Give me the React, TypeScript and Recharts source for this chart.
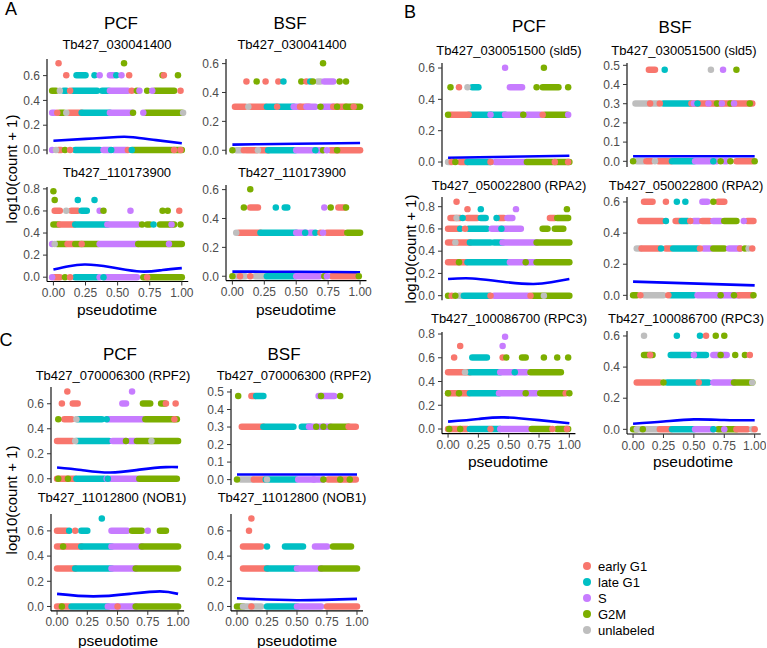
import React from "react";
import { ComposedChart, Line, Scatter, XAxis, YAxis } from "recharts";

type Phase = "e" | "l" | "s" | "g" | "u";
// [level, x, phase] = one cell, [level, xFrom, xTo, phase] = a dense run of cells
type Mark = [number, number, Phase] | [number, number, number, Phase];
type Pt = [number, number];

const PHASES: Phase[] = ["e", "l", "s", "g", "u"];
const PHASE_LABELS = ["early G1", "late G1", "S", "G2M", "unlabeled"];
const PHASE_COLORS: Record<Phase, string> = {
  e: "#F8766D",
  l: "#00BFC4",
  s: "#C77CFF",
  g: "#7CAE00",
  u: "#BEBEBE",
};

const X_TICKS = [0, 0.25, 0.5, 0.75, 1];
const Y_TICKS_05 = [0, 0.1, 0.2, 0.3, 0.4, 0.5];
const Y_TICKS_06 = [0, 0.2, 0.4, 0.6];
const Y_TICKS_08 = [0, 0.2, 0.4, 0.6, 0.8];

// A, PCF, Tb427_030041400
const aPcfMarks1: Mark[] = [
  [0, 0.04, 0.06, "e"], [0, 0.17, 0.36, "l"], [0, 0.39, 0.44, "s"], [0, 0.47, 0.57, "s"], [0, 0.62, 1.0, "g"],
  [0, -0.01, "s"], [0, 0.02, "u"], [0, 0.09, "g"], [0, 0.13, "e"], [0, 0.45, "l"], [0, 0.58, "e"], [0, 0.61, "l"], [0, 0.94, "e"], [0, 0.99, "e"],
  [0.301, -0.01, 0.01, "s"], [0.301, 0.05, 0.08, "g"], [0.301, 0.12, 0.22, "e"], [0.301, 0.22, 0.44, "l"], [0.301, 0.44, 0.61, "s"], [0.301, 0.72, 1.0, "g"],
  [0.301, 0.03, "e"], [0.301, 0.1, "u"], [0.301, 0.62, "g"], [0.301, 0.7, "s"], [0.301, 1.01, "u"],
  [0.477, -0.01, 0.02, "g"], [0.477, 0.08, 0.1, "l"], [0.477, 0.15, 0.34, "l"], [0.477, 0.38, 0.43, "l"], [0.477, 0.44, 0.58, "s"], [0.477, 0.79, 0.94, "g"],
  [0.477, 0.05, "u"], [0.477, 0.13, "e"], [0.477, 0.61, "e"], [0.477, 0.65, "g"], [0.477, 0.67, "s"], [0.477, 0.73, "g"], [0.477, 0.77, "s"], [0.477, 0.99, "e"],
  [0.602, 0.18, 0.25, "l"], [0.602, 0.44, 0.47, "s"],
  [0.602, 0.1, "e"], [0.602, 0.32, "l"], [0.602, 0.36, "s"], [0.602, 0.49, "l"], [0.602, 0.53, "s"], [0.602, 0.59, "e"], [0.602, 0.85, "g"], [0.602, 0.86, "e"], [0.602, 0.97, "g"],
  [0.699, 0.04, "e"], [0.699, 0.55, "g"],
];
const aPcfSmooth1: Pt[] = [[0, 0.075], [0.25, 0.09], [0.5, 0.105], [0.62, 0.103], [0.8, 0.08], [1, 0.055]];

// A, PCF, Tb427_110173900
const aPcfMarks2: Mark[] = [
  [0, 0.01, 0.05, "e"], [0, 0.17, 0.34, "l"], [0, 0.4, 0.65, "s"], [0, 0.7, 1.0, "g"],
  [0, -0.01, "s"], [0, 0.09, "g"], [0, 0.13, "e"], [0, 0.36, "s"], [0, 0.39, "l"], [0, 0.73, "e"],
  [0.301, 0.03, 0.1, "g"], [0.301, 0.11, 0.16, "e"], [0.301, 0.17, 0.35, "g"], [0.301, 0.36, 0.66, "s"], [0.301, 0.66, 1.0, "g"],
  [0.301, -0.01, "s"], [0.301, 0.01, "u"], [0.301, 0.22, "e"], [0.301, 0.9, "s"],
  [0.477, 0, 0.04, "g"], [0.477, 0.05, 0.16, "e"], [0.477, 0.17, 0.42, "l"], [0.477, 0.42, 0.66, "s"], [0.477, 0.73, 0.75, "g"], [0.477, 0.83, 0.94, "g"],
  [0.477, 0.69, "g"], [0.477, 0.78, "l"], [0.477, 0.92, "s"], [0.477, 0.99, "g"],
  [0.602, 0.01, 0.05, "e"], [0.602, 0.14, 0.19, "e"], [0.602, 0.22, 0.26, "l"],
  [0.602, 0.1, "u"], [0.602, 0.36, "s"], [0.602, 0.39, "g"], [0.602, 0.6, "s"], [0.602, 0.85, "g"], [0.602, 0.89, "g"], [0.602, 0.98, "e"],
  [0.699, 0.01, "g"], [0.699, 0.19, "l"], [0.699, 0.32, "l"],
  [0.778, 0, "g"],
];
const aPcfSmooth2: Pt[] = [[0, 0.069], [0.12, 0.1], [0.25, 0.115], [0.45, 0.09], [0.68, 0.051], [0.85, 0.065], [1, 0.082]];

// A, BSF, Tb427_030041400
const aBsfMarks1: Mark[] = [
  [0, 0.03, 0.07, "u"], [0, 0.11, 0.19, "e"], [0, 0.22, 0.28, "e"], [0, 0.28, 0.49, "l"], [0, 0.5, 0.63, "s"], [0, 0.66, 0.7, "s"], [0, 0.77, 1.0, "e"],
  [0, 0, "g"], [0, 0.09, "e"], [0, 0.2, "u"], [0, 0.65, "l"], [0, 0.71, "g"], [0, 0.74, "s"], [0, 0.82, "g"],
  [0.301, 0.02, 0.1, "e"], [0.301, 0.14, 0.26, "e"], [0.301, 0.27, 0.35, "l"], [0.301, 0.37, 0.48, "l"], [0.301, 0.48, 0.53, "s"], [0.301, 0.53, 0.6, "e"],
  [0.301, 0.58, 0.65, "s"], [0.301, 0.71, 0.79, "s"], [0.301, 0.79, 0.89, "e"], [0.301, 0.89, 1.0, "g"],
  [0.301, 0.125, "u"], [0.301, 0.35, "e"], [0.301, 0.69, "g"], [0.301, 0.82, "g"], [0.301, 0.95, "e"],
  [0.477, 0.67, 0.69, "u"], [0.477, 0.72, 0.79, "s"],
  [0.477, 0.11, "e"], [0.477, 0.19, "g"], [0.477, 0.26, "e"], [0.477, 0.36, "e"], [0.477, 0.4, "l"], [0.477, 0.54, "g"], [0.477, 0.58, "e"],
  [0.477, 0.61, "l"], [0.477, 0.63, "g"], [0.477, 0.84, "g"], [0.477, 0.89, "g"],
  [0.602, 0.71, "g"],
];
const aBsfSmooth1: Pt[] = [[0, 0.039], [0.5, 0.045], [1, 0.05]];

// A, BSF, Tb427_110173900
const aBsfMarks2: Mark[] = [
  [0, 0.02, 0.1, "u"], [0, 0.18, 0.26, "u"], [0, 0.27, 0.49, "l"], [0, 0.5, 0.68, "s"], [0, 0.78, 0.97, "e"],
  [0, 0, "g"], [0, 0.06, "e"], [0, 0.14, "e"], [0, 0.72, "g"], [0, 0.74, "s"], [0, 0.99, "g"],
  [0.301, 0.05, 0.22, "e"], [0.301, 0.22, 0.5, "l"], [0.301, 0.5, 0.58, "s"], [0.301, 0.61, 0.63, "s"], [0.301, 0.74, 0.87, "e"], [0.301, 0.9, 1.0, "g"],
  [0.301, 0.03, "u"], [0.301, 0.57, "l"], [0.301, 0.65, "l"], [0.301, 0.69, "e"], [0.301, 0.71, "s"],
  [0.477, 0.14, 0.2, "e"], [0.477, 0.41, 0.43, "l"], [0.477, 0.83, 0.88, "e"],
  [0.477, 0.09, "g"], [0.477, 0.34, "l"], [0.477, 0.72, "s"], [0.477, 0.77, "g"], [0.477, 0.89, "g"],
  [0.602, 0.14, "g"],
];
const aBsfSmooth2: Pt[] = [[0, 0.032], [0.5, 0.031], [1, 0.028]];

// B, PCF, Tb427_030051500 (sld5)
const bPcfMarks1: Mark[] = [
  [0, 0, 0.02, "u"], [0, 0.1, 0.16, "e"], [0, 0.16, 0.35, "l"], [0, 0.39, 0.64, "s"], [0, 0.65, 1.0, "g"],
  [0, 0.03, "e"], [0, 0.06, "g"], [0, 0.35, "e"], [0, 0.88, "e"], [0, 0.99, "e"],
  [0.301, 0.02, 0.16, "e"], [0.301, 0.18, 0.35, "l"], [0.301, 0.36, 0.47, "l"], [0.301, 0.47, 0.62, "s"], [0.301, 0.65, 0.76, "s"], [0.301, 0.8, 0.98, "g"],
  [0.301, 0, "g"], [0.301, 0.17, "e"], [0.301, 0.35, "s"], [0.301, 0.62, "g"], [0.301, 0.78, "e"], [0.301, 0.99, "s"],
  [0.477, 0.2, 0.25, "l"], [0.477, 0.51, 0.61, "s"], [0.477, 0.78, 0.91, "g"],
  [0.477, 0.02, "g"], [0.477, 0.09, "e"], [0.477, 0.16, "u"], [0.477, 0.73, "g"], [0.477, 0.99, "g"],
  [0.602, 0.47, "s"], [0.602, 0.79, "g"],
];
const bPcfSmooth1: Pt[] = [[0, 0.027], [1, 0.04]];

// B, BSF, Tb427_030051500 (sld5)
const bBsfMarks1: Mark[] = [
  [0, 0.03, 0.09, "u"], [0, 0.11, 0.15, "e"], [0, 0.21, 0.31, "e"], [0, 0.32, 0.5, "l"], [0, 0.51, 0.69, "s"], [0, 0.75, 0.77, "s"], [0, 0.85, 0.98, "e"],
  [0, 0, "g"], [0, 0.18, "u"], [0, 0.66, "l"], [0, 0.72, "g"], [0, 0.8, "g"], [0, 1.0, "g"],
  [0.301, 0.02, 0.2, "u"], [0.301, 0.25, 0.47, "l"], [0.301, 0.48, 0.98, "e"],
  [0.301, 0.14, "e"], [0.301, 0.22, "e"], [0.301, 0.5, "s"], [0.301, 0.53, "l"], [0.301, 0.62, "s"], [0.301, 0.69, "g"], [0.301, 0.73, "s"],
  [0.301, 0.8, "g"], [0.301, 0.83, "s"], [0.301, 0.96, "g"],
  [0.477, 0.13, 0.18, "e"],
  [0.477, 0.26, "l"], [0.477, 0.64, "u"], [0.477, 0.74, "s"], [0.477, 0.85, "g"],
];
const bBsfSmooth1: Pt[] = [[0, 0.026], [1, 0.026]];

// B, PCF, Tb427_050022800 (RPA2)
const bPcfMarks2: Mark[] = [
  [0, 0.09, 0.11, "u"], [0, 0.13, 0.34, "l"], [0, 0.38, 0.66, "s"], [0, 0.7, 1.0, "g"],
  [0, 0, "g"], [0, 0.03, "e"], [0, 0.06, "g"], [0, 0.35, "e"], [0, 0.68, "e"], [0, 0.79, "u"],
  [0.301, 0, 0.15, "e"], [0.301, 0.16, 0.49, "l"], [0.301, 0.51, 0.71, "s"], [0.301, 0.73, 1.0, "g"],
  [0.301, 0.09, "g"], [0.301, 0.64, "g"],
  [0.477, 0, 0.18, "e"], [0.477, 0.18, 0.35, "l"], [0.477, 0.38, 0.45, "l"], [0.477, 0.45, 0.73, "s"], [0.477, 0.73, 1.0, "g"],
  [0.477, 0.06, "u"],
  [0.602, 0, 0.09, "e"], [0.602, 0.17, 0.32, "l"], [0.602, 0.36, 0.49, "s"], [0.602, 0.51, 0.6, "s"], [0.602, 0.78, 0.82, "g"], [0.602, 0.88, 0.95, "g"],
  [0.602, 0.1, "l"], [0.602, 0.14, "e"], [0.602, 0.44, "l"],
  [0.699, 0.02, 0.1, "e"], [0.699, 0.16, 0.24, "e"], [0.699, 0.27, 0.31, "l"], [0.699, 0.42, 0.46, "e"], [0.699, 0.49, 0.53, "s"], [0.699, 0.84, 0.88, "e"], [0.699, 0.9, 0.99, "g"],
  [0.699, 0.07, "u"], [0.699, 0.12, "l"], [0.699, 0.4, "l"],
  [0.778, 0.16, "e"], [0.778, 0.27, "l"], [0.778, 0.56, "s"], [0.778, 0.98, "g"],
  [0.845, 0.07, "e"],
];
const bPcfSmooth2: Pt[] = [[0, 0.15], [0.2, 0.155], [0.45, 0.125], [0.7, 0.105], [0.85, 0.12], [1, 0.15]];

// B, BSF, Tb427_050022800 (RPA2)
const bBsfMarks2: Mark[] = [
  [0, 0, 0.03, "g"], [0, 0.09, 0.25, "u"], [0, 0.31, 0.5, "l"], [0, 0.53, 0.7, "s"], [0, 0.7, 0.87, "s"], [0, 0.87, 0.98, "e"],
  [0, 0.06, "e"], [0, 0.29, "e"], [0, 0.72, "g"], [0, 0.83, "g"], [0, 0.99, "g"],
  [0.301, 0.03, 0.06, "u"], [0.301, 0.07, 0.21, "e"], [0.301, 0.27, 0.31, "e"], [0.301, 0.33, 0.53, "l"], [0.301, 0.58, 0.64, "s"], [0.301, 0.66, 0.75, "g"], [0.301, 0.79, 0.88, "s"],
  [0.301, 0.23, "l"], [0.301, 0.55, "e"], [0.301, 0.88, "e"], [0.301, 0.92, "g"], [0.301, 0.95, "u"], [0.301, 0.98, "e"],
  [0.477, 0.06, 0.24, "e"], [0.477, 0.35, 0.39, "e"], [0.477, 0.4, 0.45, "l"], [0.477, 0.5, 0.54, "s"], [0.477, 0.57, 0.63, "e"], [0.477, 0.66, 0.72, "s"], [0.477, 0.75, 0.85, "g"], [0.477, 0.94, 0.99, "e"],
  [0.477, 0.27, "l"], [0.477, 0.47, "e"], [0.477, 0.91, "s"],
  [0.602, 0.09, 0.16, "e"], [0.602, 0.57, 0.61, "s"], [0.602, 0.7, 0.75, "e"],
  [0.602, 0.27, "e"], [0.602, 0.36, "l"], [0.602, 0.43, "l"], [0.602, 0.66, "g"],
];
const bBsfSmooth2: Pt[] = [[0, 0.088], [1, 0.064]];

// B, PCF, Tb427_100086700 (RPC3)
const bPcfMarks3: Mark[] = [
  [0, 0, 0.16, "e"], [0, 0.18, 0.34, "l"], [0, 0.36, 0.43, "l"], [0, 0.43, 0.66, "s"], [0, 0.69, 0.84, "g"], [0, 0.9, 0.99, "g"],
  [0, 0.01, "g"], [0, 0.1, "g"], [0, 0.35, "e"], [0, 0.86, "e"], [0, 0.98, "e"],
  [0.301, 0, 0.17, "e"], [0.301, 0.18, 0.42, "l"], [0.301, 0.42, 0.62, "s"], [0.301, 0.65, 0.73, "s"], [0.301, 0.76, 0.95, "g"],
  [0.301, 0, "g"], [0.301, 0.09, "g"], [0.301, 0.64, "g"], [0.301, 0.97, "e"], [0.301, 1.0, "g"],
  [0.477, 0, 0.18, "e"], [0.477, 0.18, 0.43, "l"], [0.477, 0.43, 0.65, "s"], [0.477, 0.68, 0.93, "g"],
  [0.477, 0.14, "u"], [0.477, 0.55, "l"],
  [0.602, 0.2, 0.32, "l"], [0.602, 0.61, 0.64, "g"],
  [0.602, 0.05, "e"], [0.602, 0.45, "e"], [0.602, 0.48, "g"], [0.602, 0.79, "g"], [0.602, 0.9, "g"], [0.602, 0.99, "g"],
  [0.699, 0.1, "e"], [0.699, 0.45, "s"],
  [0.778, 0.47, "s"],
];
const bPcfSmooth3: Pt[] = [[0, 0.062], [0.25, 0.085], [0.46, 0.098], [0.75, 0.075], [1, 0.048]];

// B, BSF, Tb427_100086700 (RPC3)
const bBsfMarks3: Mark[] = [
  [0, 0, 0.03, "g"], [0, 0.03, 0.2, "u"], [0, 0.22, 0.31, "e"], [0, 0.32, 0.5, "l"], [0, 0.51, 0.66, "s"], [0, 0.7, 0.85, "g"], [0, 0.85, 0.94, "e"],
  [0, 0.08, "g"], [0, 0.66, "l"], [0, 0.75, "s"], [0, 0.98, "u"], [0, 1.0, "e"],
  [0.301, 0.03, 0.22, "e"], [0.301, 0.28, 0.53, "l"], [0.301, 0.56, 0.62, "l"], [0.301, 0.66, 0.83, "s"], [0.301, 0.83, 0.98, "g"],
  [0.301, 0.25, "g"], [0.301, 0.54, "e"], [0.301, 0.98, "u"],
  [0.477, 0.09, 0.16, "g"], [0.477, 0.31, 0.47, "l"], [0.477, 0.5, 0.6, "l"], [0.477, 0.66, 0.77, "s"],
  [0.477, 0.14, "e"], [0.477, 0.5, "s"], [0.477, 0.72, "g"], [0.477, 0.84, "g"], [0.477, 0.92, "g"], [0.477, 0.96, "e"],
  [0.602, 0.09, "u"], [0.602, 0.36, "l"], [0.602, 0.55, "l"], [0.602, 0.6, "e"], [0.602, 0.68, "g"], [0.602, 0.75, "g"],
];
const bBsfSmooth3: Pt[] = [[0, 0.036], [0.25, 0.05], [0.5, 0.064], [0.75, 0.06], [1, 0.058]];

// C, PCF, Tb427_070006300 (RPF2)
const cPcfMarks1: Mark[] = [
  [0, 0, 0.15, "e"], [0, 0.16, 0.39, "l"], [0, 0.44, 0.66, "s"], [0, 0.68, 0.99, "g"],
  [0, 0.01, "g"], [0, 0.09, "g"], [0, 0.41, "s"], [0, 0.42, "l"],
  [0.301, 0, 0.13, "e"], [0.301, 0.16, 0.43, "l"], [0.301, 0.46, 0.57, "s"], [0.301, 0.6, 0.65, "s"], [0.301, 0.66, 1.0, "g"],
  [0.301, 0.15, "u"], [0.301, 0.57, "g"], [0.301, 0.78, "u"],
  [0.477, 0.06, 0.12, "e"], [0.477, 0.17, 0.37, "l"], [0.477, 0.42, 0.71, "s"], [0.477, 0.73, 0.99, "g"],
  [0.477, 0.01, "g"], [0.477, 0.16, "u"], [0.477, 0.41, "l"], [0.477, 0.97, "e"],
  [0.602, 0.13, 0.17, "e"], [0.602, 0.54, 0.57, "s"], [0.602, 0.71, 0.77, "g"], [0.602, 0.86, 0.89, "g"],
  [0.602, 0.04, "e"], [0.602, 0.9, "e"], [0.602, 0.98, "e"],
  [0.699, 0.085, "e"], [0.699, 0.62, "s"],
];
const cPcfSmooth1: Pt[] = [[0, 0.09], [0.2, 0.07], [0.44, 0.05], [0.7, 0.075], [0.9, 0.093], [1, 0.093]];

// C, BSF, Tb427_070006300 (RPF2)
const cBsfMarks1: Mark[] = [
  [0, 0.03, 0.13, "u"], [0, 0.14, 0.22, "e"], [0, 0.24, 0.49, "l"], [0, 0.51, 0.64, "s"], [0, 0.64, 0.72, "s"], [0, 0.76, 0.99, "e"],
  [0, 0, "g"], [0, 0.25, "u"], [0, 0.72, "g"], [0, 0.86, "g"], [0, 0.94, "g"],
  [0.301, 0.04, 0.22, "e"], [0.301, 0.22, 0.47, "l"], [0.301, 0.54, 0.61, "l"], [0.301, 0.6, 0.64, "s"], [0.301, 0.66, 0.78, "s"], [0.301, 0.78, 0.93, "g"], [0.301, 0.93, 0.99, "e"],
  [0.301, 0.66, "g"], [0.301, 0.72, "g"],
  [0.477, 0.12, 0.15, "e"], [0.477, 0.16, 0.22, "l"], [0.477, 0.68, 0.81, "s"],
  [0.477, 0.01, "g"], [0.477, 0.7, "g"], [0.477, 0.86, "g"],
];
const cBsfSmooth1: Pt[] = [[0, 0.029], [1, 0.029]];

// C, PCF, Tb427_11012800 (NOB1)
const cPcfMarks2: Mark[] = [
  [0, 0, 0.1, "e"], [0, 0.12, 0.42, "l"], [0, 0.42, 0.65, "s"], [0, 0.65, 1.0, "g"],
  [0, 0.04, "g"], [0, 0.5, "e"],
  [0.301, 0, 0.15, "e"], [0.301, 0.15, 0.45, "l"], [0.301, 0.45, 0.65, "s"], [0.301, 0.65, 1.0, "g"],
  [0.477, 0, 0.2, "e"], [0.477, 0.2, 0.45, "l"], [0.477, 0.45, 0.7, "s"], [0.477, 0.7, 1.0, "g"],
  [0.477, 0.05, "g"],
  [0.602, 0, 0.08, "e"], [0.602, 0.2, 0.25, "l"], [0.602, 0.45, 0.58, "s"], [0.602, 0.62, 0.7, "g"], [0.602, 0.85, 0.9, "g"],
  [0.602, 0.1, "l"], [0.602, 0.15, "e"], [0.602, 0.75, "s"],
  [0.699, 0.37, "l"],
];
const cPcfSmooth2: Pt[] = [[0, 0.1], [0.3, 0.08], [0.6, 0.1], [0.85, 0.12], [1, 0.1]];

// C, BSF, Tb427_11012800 (NOB1)
const cBsfMarks2: Mark[] = [
  [0, 0, 0.05, "g"], [0, 0.05, 0.2, "u"], [0, 0.25, 0.5, "l"], [0, 0.5, 0.7, "s"], [0, 0.75, 1.0, "e"],
  [0, 0.12, "e"],
  [0.301, 0.05, 0.25, "e"], [0.301, 0.25, 0.5, "l"], [0.301, 0.5, 0.7, "s"], [0.301, 0.7, 1.0, "g"],
  [0.477, 0.05, 0.2, "e"], [0.477, 0.4, 0.55, "l"], [0.477, 0.65, 0.75, "s"], [0.477, 0.8, 0.95, "g"],
  [0.477, 0.25, "l"],
  [0.602, 0.1, "e"],
  [0.699, 0.12, "e"],
];
const cBsfSmooth2: Pt[] = [[0, 0.065], [0.5, 0.05], [1, 0.06]];

const FONT = "'Liberation Sans', Arial, Helvetica, sans-serif";
const YW = 40;
const PAD = 6;
const XH = 22;

interface PanelCfg {
  marks: Mark[];
  smooth: Pt[];
  x0: number; // page px of pseudotime 0
  x1: number; // page px of pseudotime 1
  p0: number; // page px of y = 0
  k: number; // px per y unit
  lo: number;
  hi: number;
  ticks: number[];
  showX: boolean;
}

const panels: PanelCfg[] = [
  { marks: aPcfMarks1, smooth: aPcfSmooth1, x0: 53.3, x1: 181.7, p0: 150, k: 124, lo: -0.035, hi: 0.734, ticks: Y_TICKS_06, showX: false },
  { marks: aPcfMarks2, smooth: aPcfSmooth2, x0: 53.3, x1: 181.7, p0: 276.7, k: 110.4, lo: -0.039, hi: 0.817, ticks: Y_TICKS_08, showX: true },
  { marks: aBsfMarks1, smooth: aBsfSmooth1, x0: 232.3, x1: 360, p0: 150, k: 144.4, lo: -0.03, hi: 0.632, ticks: Y_TICKS_06, showX: false },
  { marks: aBsfMarks2, smooth: aBsfSmooth2, x0: 232.3, x1: 360, p0: 276.7, k: 144.4, lo: -0.03, hi: 0.632, ticks: Y_TICKS_06, showX: true },
  { marks: bPcfMarks1, smooth: bPcfSmooth1, x0: 447.7, x1: 569, p0: 162.3, k: 156.7, lo: -0.03, hi: 0.632, ticks: Y_TICKS_06, showX: false },
  { marks: bBsfMarks1, smooth: bBsfSmooth1, x0: 632.7, x1: 754.3, p0: 161.7, k: 192, lo: -0.03, hi: 0.512, ticks: Y_TICKS_05, showX: false },
  { marks: bPcfMarks2, smooth: bPcfSmooth2, x0: 447.7, x1: 569, p0: 295.7, k: 111.25, lo: -0.042, hi: 0.887, ticks: Y_TICKS_08, showX: false },
  { marks: bBsfMarks2, smooth: bBsfSmooth2, x0: 632.7, x1: 754.3, p0: 295.7, k: 155.6, lo: -0.03, hi: 0.632, ticks: Y_TICKS_06, showX: false },
  { marks: bPcfMarks3, smooth: bPcfSmooth3, x0: 447.7, x1: 569, p0: 429, k: 118.75, lo: -0.039, hi: 0.817, ticks: Y_TICKS_08, showX: true },
  { marks: bBsfMarks3, smooth: bBsfSmooth3, x0: 632.7, x1: 754.3, p0: 429, k: 155.6, lo: -0.03, hi: 0.632, ticks: Y_TICKS_06, showX: true },
  { marks: cPcfMarks1, smooth: cPcfSmooth1, x0: 57.3, x1: 178.3, p0: 479, k: 125, lo: -0.035, hi: 0.734, ticks: Y_TICKS_06, showX: false },
  { marks: cBsfMarks1, smooth: cBsfSmooth1, x0: 236.7, x1: 356.7, p0: 480, k: 175.3, lo: -0.03, hi: 0.517, ticks: Y_TICKS_05, showX: false },
  { marks: cPcfMarks2, smooth: cPcfSmooth2, x0: 57.3, x1: 178.3, p0: 606.6, k: 126, lo: -0.035, hi: 0.734, ticks: Y_TICKS_06, showX: true },
  { marks: cBsfMarks2, smooth: cBsfSmooth2, x0: 236.7, x1: 356.7, p0: 606.6, k: 126, lo: -0.035, hi: 0.734, ticks: Y_TICKS_06, showX: true },
];

const tickStyle = { fontSize: 12, fill: "#4D4D4D", fontFamily: FONT };

function Panel({ cfg }: { cfg: PanelCfg }) {
  const unit = cfg.x1 - cfg.x0;
  const plotLeft = cfg.x0 - 0.05 * unit;
  const plotW = 1.1 * unit;
  const plotTop = cfg.p0 - cfg.hi * cfg.k;
  const plotH = (cfg.hi - cfg.lo) * cfg.k;
  const runs = cfg.marks.filter((m) => m.length === 4) as [number, number, number, Phase][];
  const dots = cfg.marks
    .filter((m) => m.length === 3)
    .map((m) => ({ x: m[1] as number, y: m[0], ph: m[2] as Phase }));
  const w = YW + plotW + PAD;
  const h = PAD + plotH + (cfg.showX ? XH : PAD);

  return (
    <div style={{ position: "absolute", left: plotLeft - YW, top: plotTop - PAD }}>
      <ComposedChart width={w} height={h} margin={{ top: PAD, right: PAD, bottom: cfg.showX ? 0 : PAD, left: 0 }}>
        <XAxis
          dataKey='x'
          type='number'
          domain={[-0.05, 1.05]}
          allowDataOverflow
          ticks={X_TICKS}
          interval={0}
          tickFormatter={(v: number) => v.toFixed(2)}
          hide={!cfg.showX}
          height={XH}
          tick={tickStyle}
          tickSize={4}
          tickMargin={3}
          axisLine={{ stroke: "#000", strokeWidth: 1.1 }}
          tickLine={{ stroke: "#333" }}
        />
        <YAxis
          dataKey='y'
          type='number'
          domain={[cfg.lo, cfg.hi]}
          allowDataOverflow
          ticks={cfg.ticks}
          interval={0}
          tickFormatter={(v: number) => v.toFixed(1)}
          width={YW}
          tick={tickStyle}
          tickSize={4}
          tickMargin={3}
          axisLine={{ stroke: "#000", strokeWidth: 1.1 }}
          tickLine={{ stroke: "#333" }}
        />
        {runs.map((r, i) => (
          <Line
            key={`run-${i}`}
            data={[
              { x: r[1], y: r[0] },
              { x: r[2], y: r[0] },
            ]}
            dataKey='y'
            type='linear'
            stroke={PHASE_COLORS[r[3]]}
            strokeWidth={6.5}
            strokeLinecap='round'
            dot={false}
            activeDot={false}
            isAnimationActive={false}
          />
        ))}
        <Scatter
          data={dots}
          dataKey='y'
          isAnimationActive={false}
          shape={(p: any) => <circle cx={p.cx} cy={p.cy} r={3.25} fill={PHASE_COLORS[p.payload.ph as Phase]} />}
        />
        <Line
          data={cfg.smooth.map(([x, y]) => ({ x, y }))}
          dataKey='y'
          type='natural'
          stroke='#0000FF'
          strokeWidth={2.6}
          dot={false}
          activeDot={false}
          isAnimationActive={false}
        />
      </ComposedChart>
    </div>
  );
}

function Txt({ x, y, size, children, rotate = 0 }: { x: number; y: number; size: number; children: React.ReactNode; rotate?: number }) {
  return (
    <div
      style={{
        position: "absolute",
        left: x,
        top: y,
        transform: `translate(-50%, -50%) rotate(${rotate}deg)`,
        fontSize: size,
        fontFamily: FONT,
        lineHeight: 1,
        whiteSpace: "nowrap",
        color: "#000",
      }}
    >
      {children}
    </div>
  );
}

export default function App() {
  return (
    <div style={{ position: "absolute", left: 0, top: 0, width: 767, height: 648, background: "#fff", overflow: "hidden" }}>
      {panels.map((p, i) => (
        <Panel key={i} cfg={p} />
      ))}

      <Txt x={11} y={9} size={18}>A</Txt>
      <Txt x={410} y={12} size={18}>B</Txt>
      <Txt x={6} y={340} size={18}>C</Txt>

      <Txt x={121} y={23} size={17}>PCF</Txt>
      <Txt x={290} y={23} size={17}>BSF</Txt>
      <Txt x={529} y={26} size={17}>PCF</Txt>
      <Txt x={675} y={27} size={17}>BSF</Txt>
      <Txt x={120} y={354} size={17}>PCF</Txt>
      <Txt x={284} y={354} size={17}>BSF</Txt>

      <Txt x={117} y={43.5} size={13}>Tb427_030041400</Txt>
      <Txt x={292} y={43.5} size={13}>Tb427_030041400</Txt>
      <Txt x={117} y={172} size={13}>Tb427_110173900</Txt>
      <Txt x={292} y={172} size={13}>Tb427_110173900</Txt>
      <Txt x={509} y={50} size={13}>Tb427_030051500 (sld5)</Txt>
      <Txt x={684} y={50} size={13}>Tb427_030051500 (sld5)</Txt>
      <Txt x={509} y={185} size={13}>Tb427_050022800 (RPA2)</Txt>
      <Txt x={686} y={185} size={13}>Tb427_050022800 (RPA2)</Txt>
      <Txt x={509} y={318} size={13}>Tb427_100086700 (RPC3)</Txt>
      <Txt x={686} y={318} size={13}>Tb427_100086700 (RPC3)</Txt>
      <Txt x={113} y={375} size={13}>Tb427_070006300 (RPF2)</Txt>
      <Txt x={294} y={375} size={13}>Tb427_070006300 (RPF2)</Txt>
      <Txt x={112} y={497} size={13}>Tb427_11012800 (NOB1)</Txt>
      <Txt x={292} y={497} size={13}>Tb427_11012800 (NOB1)</Txt>

      <Txt x={117} y={310} size={15.5}>pseudotime</Txt>
      <Txt x={296} y={310} size={15.5}>pseudotime</Txt>
      <Txt x={508} y={462} size={15.5}>pseudotime</Txt>
      <Txt x={693} y={462} size={15.5}>pseudotime</Txt>
      <Txt x={118} y={641} size={15.5}>pseudotime</Txt>
      <Txt x={297} y={641} size={15.5}>pseudotime</Txt>

      <Txt x={11} y={169} size={15} rotate={-90}>log10(count + 1)</Txt>
      <Txt x={410} y={249} size={15} rotate={-90}>log10(count + 1)</Txt>
      <Txt x={11} y={500} size={15} rotate={-90}>log10(count + 1)</Txt>

      {PHASES.map((ph, i) => (
        <div key={ph} style={{ position: "absolute", left: 583, top: 559 + i * 16, display: "flex", alignItems: "center", height: 14 }}>
          <span style={{ width: 8, height: 8, borderRadius: "50%", background: PHASE_COLORS[ph], display: "inline-block" }} />
          <span style={{ marginLeft: 7, fontSize: 13, fontFamily: FONT, color: "#000" }}>{PHASE_LABELS[i]}</span>
        </div>
      ))}
    </div>
  );
}
